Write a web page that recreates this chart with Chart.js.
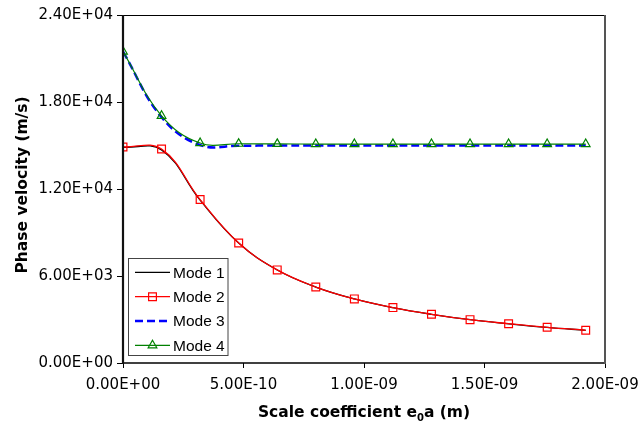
<!DOCTYPE html>
<html><head><meta charset="utf-8">
<script src="https://cdn.jsdelivr.net/npm/chart.js@4.4.1/dist/chart.umd.min.js"></script>
<style>html,body{margin:0;padding:0;background:#fff}#wrap{width:643px;height:427px;position:relative}</style>
</head><body><div id="wrap"><canvas id="c" width="643" height="427"></canvas></div>
<script>
const xValues = [0, 1.6e-10, 3.2e-10, 4.8e-10, 6.4e-10, 8.0e-10, 9.6e-10, 1.12e-9, 1.28e-9, 1.44e-9, 1.6e-9, 1.76e-9, 1.92e-9];
const mode1 = [14880, 14700, 11230, 8270, 6410, 5235, 4415, 3815, 3355, 2985, 2705, 2455, 2255];
const mode2 = [14900, 14760, 11270, 8280, 6420, 5240, 4420, 3820, 3360, 2990, 2710, 2460, 2260];
const mode3 = [21480, 16950, 15030, 14990, 15000, 15000, 15000, 15000, 15000, 15000, 15000, 15000, 15000];
const mode4 = [21480, 17050, 15170, 15120, 15110, 15100, 15100, 15100, 15100, 15100, 15100, 15100, 15100];
const seriesNames = ['Mode 1', 'Mode 2', 'Mode 3', 'Mode 4'];
const yTicks = [0, 6000, 12000, 18000, 24000];
const xTicks = [0, 5e-10, 1e-9, 1.5e-9, 2e-9];
const xTitleParts = ['Scale coefficient e', '0', 'a (m)'];
const yTitle = 'Phase velocity (m/s)';

function sci(v) {
  if (v === 0) return '0.00E+00';
  let e = Math.floor(Math.log10(Math.abs(v)) + 1e-9);
  let ms = (v / Math.pow(10, e)).toFixed(2);
  if (parseFloat(ms) >= 10) { e += 1; ms = (v / Math.pow(10, e)).toFixed(2); }
  const ea = Math.abs(e);
  return ms + 'E' + (e < 0 ? '-' : '+') + (ea < 10 ? '0' : '') + ea;
}
function pts(arr) { return xValues.map((x, i) => ({ x: x, y: arr[i] })); }

const styles = [
  { color: '#000000', width: 1.3, dash: [], marker: null },
  { color: '#FF0000', width: 1.3, dash: [], marker: 'rect' },
  { color: '#0000FF', width: 2.5, dash: [8, 4], marker: null },
  { color: '#008000', width: 1.2, dash: [], marker: 'triangle' }
];
const seriesData = [mode1, mode2, mode3, mode4];
const orders = [3, 1, 2, 0];

const datasets = seriesData.map((d, i) => ({
  label: seriesNames[i],
  data: pts(d),
  borderColor: styles[i].color,
  backgroundColor: 'rgba(0,0,0,0)',
  borderWidth: styles[i].width,
  borderDash: styles[i].dash,
  tension: 0.4,
  pointStyle: styles[i].marker || 'circle',
  pointRadius: styles[i].marker === 'rect' ? 5.5 : (styles[i].marker === 'triangle' ? 5 : 0),
  pointBorderWidth: 1.2,
  pointBorderColor: styles[i].color,
  pointBackgroundColor: 'rgba(0,0,0,0)',
  order: orders[i],
  fill: false
}));

function marker(ctx, type, x, y, color) {
  ctx.save();
  ctx.strokeStyle = color; ctx.lineWidth = 1.2; ctx.setLineDash([]);
  ctx.beginPath();
  if (type === 'rect') {
    const s = 5.5 * Math.SQRT1_2;
    ctx.rect(x - s, y - s, 2 * s, 2 * s);
  } else if (type === 'triangle') {
    const r = 5;
    for (let k = 0; k < 3; k++) {
      const a = k * 2 * Math.PI / 3;
      const px = x + Math.sin(a) * r, py = y - Math.cos(a) * r;
      if (k === 0) ctx.moveTo(px, py); else ctx.lineTo(px, py);
    }
    ctx.closePath();
  }
  ctx.stroke();
  ctx.restore();
}

const decor = {
  id: 'decor',
  afterDraw(chart) {
    const ctx = chart.ctx;
    const a = chart.chartArea;
    ctx.save();
    ctx.setLineDash([]);
    ctx.strokeStyle = '#000'; ctx.lineWidth = 1;
    ctx.beginPath(); ctx.moveTo(a.left, a.top + 0.5); ctx.lineTo(a.right, a.top + 0.5); ctx.stroke();
    ctx.lineWidth = 1.5;
    ctx.beginPath(); ctx.moveTo(a.left, a.bottom); ctx.lineTo(a.right, a.bottom); ctx.stroke();
    ctx.strokeStyle = '#555'; ctx.lineWidth = 2;
    ctx.beginPath(); ctx.moveTo(a.right, a.top); ctx.lineTo(a.right, a.bottom + 1); ctx.stroke();
    ctx.strokeStyle = '#111'; ctx.lineWidth = 2.2;
    ctx.beginPath(); ctx.moveTo(a.left, a.top); ctx.lineTo(a.left, a.bottom + 1); ctx.stroke();

    const lx = 128.5, ly = 258.5, lw = 99.5, lh = 97;
    ctx.fillStyle = '#fff'; ctx.fillRect(lx, ly, lw, lh);
    ctx.strokeStyle = '#444'; ctx.lineWidth = 1; ctx.strokeRect(lx, ly, lw, lh);
    const rows = [272.3, 296.7, 321, 345.3];
    ctx.font = '15.5px "Liberation Sans", Arial, sans-serif';
    ctx.textBaseline = 'middle'; ctx.textAlign = 'left';
    for (let i = 0; i < 4; i++) {
      const st = styles[i];
      const y = rows[i];
      ctx.save();
      ctx.strokeStyle = st.color; ctx.lineWidth = st.width; ctx.setLineDash(st.dash);
      ctx.beginPath(); ctx.moveTo(135, y); ctx.lineTo(170, y); ctx.stroke();
      ctx.restore();
      if (st.marker) marker(ctx, st.marker, 152.5, y, st.color);
      ctx.fillStyle = '#000';
      ctx.fillText(chart.data.datasets[i].label, 173, y + 1);
    }

    ctx.save();
    ctx.font = 'bold 15.5px "DejaVu Sans", sans-serif';
    ctx.fillStyle = '#000'; ctx.textAlign = 'center'; ctx.textBaseline = 'alphabetic';
    ctx.translate(27, 185); ctx.rotate(-Math.PI / 2);
    ctx.fillText(yTitle, 0, 0);
    ctx.restore();

    const big = 'bold 15.5px "DejaVu Sans", sans-serif';
    const small = 'bold 10px "DejaVu Sans", sans-serif';
    ctx.font = big; const w0 = ctx.measureText(xTitleParts[0]).width; const w2 = ctx.measureText(xTitleParts[2]).width;
    ctx.font = small; const w1 = ctx.measureText(xTitleParts[1]).width;
    const total = w0 + w1 + w2;
    let x = (a.left + a.right) / 2 - total / 2;
    const by = 417;
    ctx.fillStyle = '#000'; ctx.textAlign = 'left'; ctx.textBaseline = 'alphabetic';
    ctx.font = big; ctx.fillText(xTitleParts[0], x, by); x += w0;
    ctx.font = small; ctx.fillText(xTitleParts[1], x, by + 4); x += w1;
    ctx.font = big; ctx.fillText(xTitleParts[2], x, by);
    ctx.restore();
  }
};

new Chart(document.getElementById('c'), {
  type: 'line',
  data: { datasets: datasets },
  options: {
    responsive: false,
    animation: false,
    layout: { autoPadding: false, padding: { top: 15, right: 38, left: 0, bottom: 0 } },
    plugins: { legend: { display: false }, tooltip: { enabled: false } },
    scales: {
      x: {
        type: 'linear', min: 0, max: 2e-9,
        afterBuildTicks: s => { s.ticks = xTicks.map(v => ({ value: v })); },
        afterFit: s => { s.height = 64; s.paddingLeft = 0; s.paddingRight = 0; },
        ticks: { callback: v => sci(v), font: { family: 'DejaVu Sans', size: 15 }, color: '#000', padding: 8, maxRotation: 0, autoSkip: false },
        grid: { drawOnChartArea: false, drawTicks: true, tickLength: 5, color: '#000', lineWidth: 1 },
        border: { display: false }
      },
      y: {
        type: 'linear', min: 0, max: 24000,
        afterBuildTicks: s => { s.ticks = yTicks.map(v => ({ value: v })); },
        afterFit: s => { s.width = 123; s.paddingTop = 0; s.paddingBottom = 0; },
        ticks: { callback: v => sci(v), font: { family: 'DejaVu Sans', size: 15 }, color: '#000', padding: 4, autoSkip: false },
        grid: { drawOnChartArea: false, drawTicks: true, tickLength: 6, color: '#000', lineWidth: 1 },
        border: { display: false }
      }
    }
  },
  plugins: [decor]
});
</script>
</body></html>
